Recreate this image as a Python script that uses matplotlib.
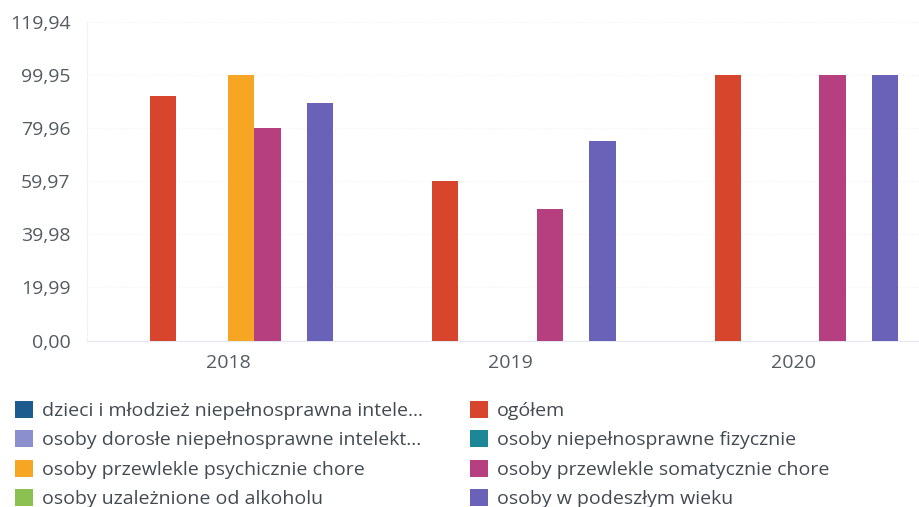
import matplotlib
matplotlib.use("Agg")
import matplotlib.pyplot as plt
import numpy as np
from matplotlib.patches import Patch

plt.rcParams['font.family'] = ['Open Sans', 'DejaVu Sans']

years = ["2018", "2019", "2020"]
series_names = [
    "dzieci i młodzież niepełnosprawna intele...",
    "ogółem",
    "osoby dorosłe niepełnosprawne intelekt...",
    "osoby niepełnosprawne fizycznie",
    "osoby przewlekle psychicznie chore",
    "osoby przewlekle somatycznie chore",
    "osoby uzależnione od alkoholu",
    "osoby w podeszłym wieku",
]
dzieci = [0, 0, 0]
ogolem = [92.1, 60.1, 100.0]
dorosle = [0, 0, 0]
fizyczne = [0, 0, 0]
psychiczne = [99.9, 0, 0]
somatyczne = [80.0, 49.5, 100.0]
alkohol = [0, 0, 0]
podeszly = [89.3, 75.1, 100.0]
values = [dzieci, ogolem, dorosle, fizyczne, psychiczne, somatyczne, alkohol, podeszly]
colors = ["#1d5b8e", "#d8452d", "#8b8fce", "#1b8797", "#f6a623", "#b6407f", "#8cc152", "#6a61b8"]
yticks = [0.00, 19.99, 39.98, 59.97, 79.96, 99.95, 119.94]

fig = plt.figure(figsize=(9.2, 5.07), dpi=100)
ax = fig.add_axes([87/920, (507-340.5)/507, 847.5/920, (340.5-22)/507])

x = np.arange(len(years))
w = 0.0928
for i, (vals, c) in enumerate(zip(values, colors)):
    ax.bar(x + (i - 3.5) * w, vals, width=w, color=c, zorder=3)

ax.set_xlim(-0.5, 2.5)
ax.set_ylim(0, 119.94)
ax.set_yticks(yticks)
ax.set_yticklabels([f"{t:.2f}".replace(".", ",") for t in yticks])
ax.set_xticks(x)
ax.set_xticklabels(years)
ax.tick_params(axis='y', length=0, pad=12, labelsize=14, labelcolor="#555a62")
ax.tick_params(axis='x', length=0, pad=10, labelsize=14, labelcolor="#555a62")
ax.grid(axis='y', color="#f2f2f2", linestyle=":", linewidth=0.8, zorder=0)
for s in ["top", "right"]:
    ax.spines[s].set_visible(False)
ax.spines["left"].set_color("#eeeeee")
ax.spines["left"].set_linestyle(":")
ax.spines["bottom"].set_color("#e4e8f2")

col1 = [0, 2, 4, 6]
col2 = [1, 3, 5, 7]
for cols, xpos in [(col1, 15/920), (col2, 470/920)]:
    handles = [Patch(facecolor=colors[i], edgecolor="none") for i in cols]
    labels = [series_names[i] for i in cols]
    fig.legend(handles, labels, loc="upper left", bbox_to_anchor=(xpos, 1 - 401/507),
               frameon=False, fontsize=14, labelcolor="#444a52",
               handlelength=0.95, handleheight=0.95, handletextpad=0.45,
               labelspacing=0.53, borderpad=0, borderaxespad=0)

fig.savefig("out.png", dpi=100)
